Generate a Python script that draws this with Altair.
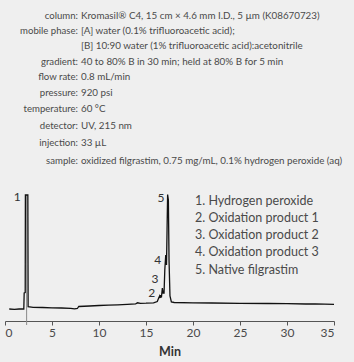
import altair as alt
import pandas as pd

# ---- data -------------------------------------------------------------
time_min = [0.45, 1.0, 1.5, 2.0, 2.04, 2.15, 2.17, 2.43, 2.46, 3.0, 4.0, 5.0, 6.0, 7.0,
            7.4, 7.7, 7.85, 9.0, 10.0, 11.0, 12.0, 13.0, 13.9, 14.1, 14.4, 15.0, 15.8,
            16.2, 16.35, 16.45, 16.5, 16.56, 16.64, 16.74, 16.82, 16.92, 17.0, 17.1,
            17.18, 17.24, 17.3, 17.38, 17.45, 17.55, 17.7, 18.0, 20.0, 22.0, 25.0,
            28.0, 30.0, 32.0, 33.0, 35.0]
signal = [12.0, 11.7, 12.0, 12.0, 28.0, 28.5, 126.0, 126.0, 14.3, 13.7, 13.5, 13.2, 13.0, 12.7,
          12.2, 12.5, 14.5, 15.0, 15.5, 15.8, 16.2, 16.7, 17.2, 18.2, 17.7, 17.8, 18.2,
          19.5, 23.0, 25.0, 23.0, 26.0, 23.5, 33.0, 28.0, 28.0, 51.0, 66.0,
          56.0, 91.0, 126.5, 121.0, 61.0, 25.0, 19.0, 18.5, 18.2, 18.0, 17.7,
          17.5, 17.3, 17.0, 17.2, 16.7]

peak_ids = ["1", "2", "3", "4", "5"]
peak_label_time = [1.31, 15.6, 15.96, 16.24, 16.6]
peak_label_signal = [124.3, 27.7, 41.7, 61.0, 123.3]

peak_names = ["1. Hydrogen peroxide", "2. Oxidation product 1", "3. Oxidation product 2",
              "4. Oxidation product 3", "5. Native filgrastim"]

injection_time = [2.3]
injection_range = [-4.0, 126.0]

header_labels = ["column:", "mobile phase:", "", "gradient:", "flow rate:", "pressure:",
                 "temperature:", "detector:", "injection:", "sample:"]
header_values = ["Kromasil® C4, 15 cm × 4.6 mm I.D., 5 µm (K08670723)",
                 "[A] water (0.1% trifluoroacetic acid);",
                 "[B] 10:90 water (1% trifluoroacetic acid):acetonitrile",
                 "40 to 80% B in 30 min; held at 80% B for 5 min",
                 "0.8 mL/min",
                 "920 psi",
                 "60 °C",
                 "UV, 215 nm",
                 "33 µL",
                 "oxidized filgrastim, 0.75 mg/mL, 0.1% hydrogen peroxide (aq)"]

x_ticks = [0, 5, 10, 15, 20, 25, 30, 35]

# ---- layout (pixels) -------------------------------------------------
PAD_LEFT, PAD_TOP = 5, 180
PLOT_W, PLOT_H = 329, 141
header_y = [16, 31, 46, 61.6, 76.5, 92.6, 109, 125.7, 143.3, 160.7]
header_label_x = 78
header_value_x = 81
legend_x = 195
legend_y = [200.8, 218.0, 235.2, 252.4, 269.6]

FONT = "Lato"
TEXT_COLOR = "#4a4a4a"

xscale = alt.Scale(domain=[0, 35], nice=False)
yscale = alt.Scale(domain=[0, PLOT_H], nice=False, zero=False)

trace_df = pd.DataFrame({"time": time_min, "signal": signal})

injection = alt.Chart(pd.DataFrame({"time": injection_time,
                                    "lo": [injection_range[0]],
                                    "hi": [injection_range[1]]})).mark_rule(
    color="#8a8a8a", strokeWidth=1
).encode(
    x=alt.X("time:Q", scale=xscale),
    y=alt.Y("lo:Q", scale=yscale, axis=None),
    y2="hi:Q",
)

trace = alt.Chart(trace_df).mark_line(color="#111111", strokeWidth=1.3,
                                      strokeJoin="miter").encode(
    x=alt.X("time:Q", scale=xscale,
            axis=alt.Axis(values=x_ticks, title="Min", format="d",
                          labelFont=FONT, labelFontSize=12, labelColor=TEXT_COLOR,
                          labelPadding=2, tickSize=4, tickColor="#555555",
                          domainColor="#555555", grid=False,
                          titleFont=FONT, titleFontSize=12.5, titleFontWeight="bold",
                          titleColor="#333333", titlePadding=7)),
    y=alt.Y("signal:Q", scale=yscale, axis=None),
    order=alt.Order("time:Q"),
)

peak_lbl = alt.Chart(pd.DataFrame({"time": peak_label_time, "signal": peak_label_signal,
                                   "id": peak_ids})).mark_text(
    font=FONT, fontSize=12, color="#333333", baseline="middle", align="center"
).encode(
    x=alt.X("time:Q", scale=xscale),
    y=alt.Y("signal:Q", scale=yscale, axis=None),
    text="id:N",
)

layers = [injection, trace, peak_lbl]

for i, name in enumerate(peak_names):
    layers.append(
        alt.Chart(pd.DataFrame({"t": [name]})).mark_text(
            font=FONT, fontSize=12.5, color=TEXT_COLOR, align="left", baseline="middle"
        ).encode(text="t:N", x=alt.value(legend_x - PAD_LEFT),
                 y=alt.value(legend_y[i] - PAD_TOP))
    )

for i, (lab, val) in enumerate(zip(header_labels, header_values)):
    if lab:
        layers.append(
            alt.Chart(pd.DataFrame({"t": [lab]})).mark_text(
                font=FONT, fontSize=9.6, color=TEXT_COLOR, align="right", baseline="middle"
            ).encode(text="t:N", x=alt.value(header_label_x - PAD_LEFT),
                     y=alt.value(header_y[i] - PAD_TOP))
        )
    layers.append(
        alt.Chart(pd.DataFrame({"t": [val]})).mark_text(
            font=FONT, fontSize=9.8, color=TEXT_COLOR, align="left", baseline="middle"
        ).encode(text="t:N", x=alt.value(header_value_x - PAD_LEFT),
                 y=alt.value(header_y[i] - PAD_TOP))
    )

chart = alt.layer(*layers).properties(
    width=PLOT_W, height=PLOT_H,
    padding={"left": PAD_LEFT, "top": PAD_TOP, "right": 354 - PAD_LEFT - PLOT_W,
             "bottom": 362 - PAD_TOP - PLOT_H},
    autosize=alt.AutoSizeParams(type="none"),
    background="#efefef",
).configure_view(stroke=None)

chart.save("out.html", embed_options={"renderer": "svg", "actions": False})
